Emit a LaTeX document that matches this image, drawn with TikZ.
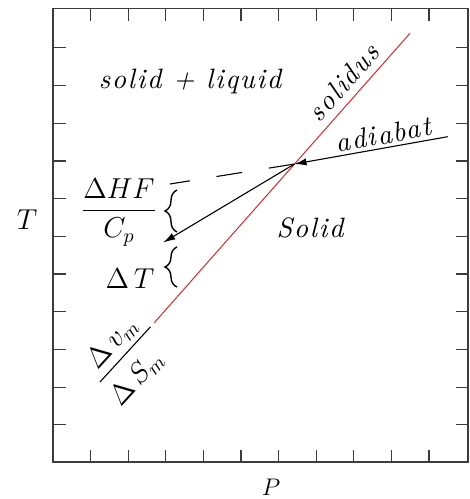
\documentclass[tikz,border=0pt]{standalone}
\usepackage{amsmath}
\usepackage{fontspec}
\newfontfamily\spacedit[LetterSpace=6]{lmroman10-italic.otf}
\usepackage{tikz}
\usetikzlibrary{arrows.meta,decorations.pathreplacing}
\definecolor{frameGray}{RGB}{60,60,60}
\definecolor{solidusRed}{RGB}{215,40,45}

\tikzset{
  axline/.style={frameGray, line width=0.6pt},
  word/.style={font=\fontsize{14}{17}\selectfont\spacedit, inner sep=1pt},
  sym/.style={font=\fontsize{14}{17}\selectfont, inner sep=1pt},
  curly/.style={decorate, decoration={brace, amplitude=6pt}, line width=0.7pt},
  path/.style={line width=0.55pt}
}

\begin{document}
\begin{tikzpicture}[x=0.5pt,y=-0.5pt]
    \useasboundingbox (0,0) rectangle (470,499);
    % frame with ticks on all four sides
    \draw[axline] (53,8.5) rectangle (468,462);
    \foreach \i in {1,...,10} {
      \draw[axline] ({53+37.6*\i},8.5) -- ++(0,12.5);
      \draw[axline] ({53+37.6*\i},462) -- ++(0,-12.5);
    }
    \foreach \j in {1,...,11} {
      \draw[axline] (53,{462.5-37.7*\j}) -- ++(13,0);
      \draw[axline] (468,{462.5-37.7*\j}) -- ++(-12.5,0);
    }
    \node[sym] (lblT) at (27,220) {$T$};
    \node[sym, font=\fontsize{13}{16}\selectfont] (lblP) at (271,487) {$P$};
    % solidus and its slope
    \coordinate (solA) at (154.3,322.7);
    \coordinate (solB) at (410,33.3);
    \coordinate (slopeA) at (100,382);
    \coordinate (slopeB) at (150.5,326.8);
    \draw[solidusRed, line width=0.5pt] (solA) -- (solB);
    \draw[path] (slopeA) -- (slopeB)
      node[sym, midway, sloped, above=1.5pt] (numV) {$\Delta\,v_m$}
      node[sym, pos=0.37, sloped, below=5pt] (denS) {$\Delta\,S_m$};
    % adiabat
    \coordinate (X) at (294.5,164);
    \coordinate (adR) at (447.7,136.7);
    \coordinate (adL) at (170,184);
    \coordinate (dropTip) at (163.3,242.5);
    \draw[path, -{Latex[length=6pt,width=3.6pt]}] (adR) -- (X);
    \draw[path, dash pattern=on 13pt off 13.5pt] (X) -- (adL);
    \draw[path, -{Latex[length=6pt,width=3.6pt]}] (X) -- (dropTip);
    \draw[curly] (177,232) -- (177,190);
    \draw[curly] (177,287) -- (177,247);
    \node[sym, anchor=base] (fracHF) at (119,218) {$\dfrac{\Delta HF}{C_p}$};
    \node[sym, anchor=base] (lblDT) at (130,288) {$\Delta\,T$};
    % region and curve labels
    \node[word, anchor=base] (lblSL) at (190,88) {solid + liquid};
    \node[word, anchor=base] (lblSolid) at (310,237) {Solid};
    \node[word, anchor=base, rotate=48.5] (lblSolidus) at (350.5,88.6) {solidus};
    \node[word, anchor=base, rotate=10.5] (lblAdiabat) at (385,144) {adiabat};
\end{tikzpicture}
\end{document}
